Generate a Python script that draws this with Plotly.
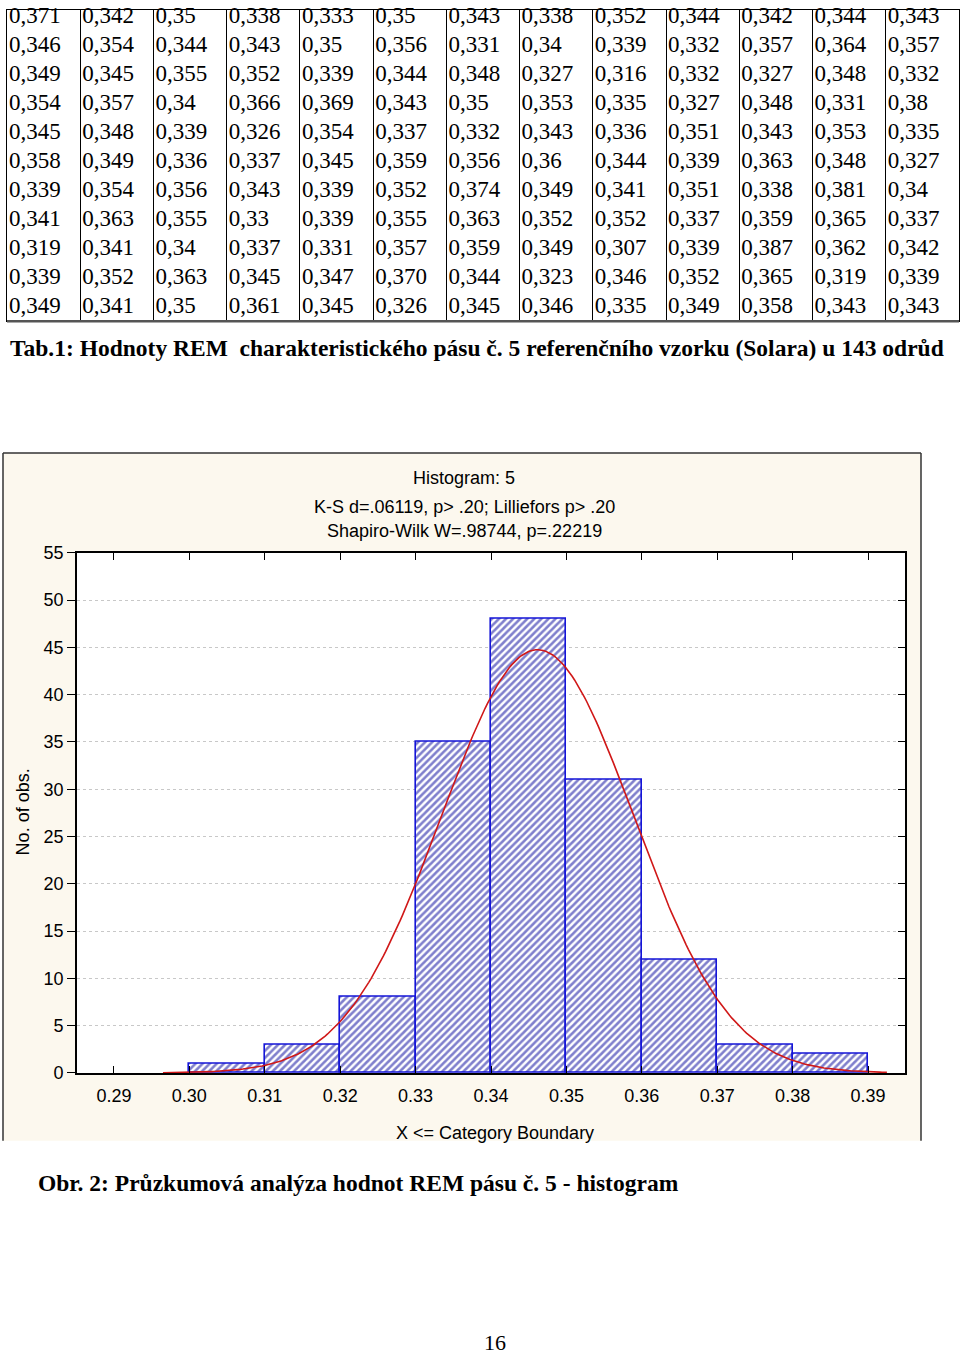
import numpy as np
import plotly.graph_objects as go

# ---------------- data: table of REM values (13 columns x 11 rows) ----------------
col_01 = ["0,371", "0,346", "0,349", "0,354", "0,345", "0,358", "0,339", "0,341", "0,319", "0,339", "0,349"]
col_02 = ["0,342", "0,354", "0,345", "0,357", "0,348", "0,349", "0,354", "0,363", "0,341", "0,352", "0,341"]
col_03 = ["0,35", "0,344", "0,355", "0,34", "0,339", "0,336", "0,356", "0,355", "0,34", "0,363", "0,35"]
col_04 = ["0,338", "0,343", "0,352", "0,366", "0,326", "0,337", "0,343", "0,33", "0,337", "0,345", "0,361"]
col_05 = ["0,333", "0,35", "0,339", "0,369", "0,354", "0,345", "0,339", "0,339", "0,331", "0,347", "0,345"]
col_06 = ["0,35", "0,356", "0,344", "0,343", "0,337", "0,359", "0,352", "0,355", "0,357", "0,370", "0,326"]
col_07 = ["0,343", "0,331", "0,348", "0,35", "0,332", "0,356", "0,374", "0,363", "0,359", "0,344", "0,345"]
col_08 = ["0,338", "0,34", "0,327", "0,353", "0,343", "0,36", "0,349", "0,352", "0,349", "0,323", "0,346"]
col_09 = ["0,352", "0,339", "0,316", "0,335", "0,336", "0,344", "0,341", "0,352", "0,307", "0,346", "0,335"]
col_10 = ["0,344", "0,332", "0,332", "0,327", "0,351", "0,339", "0,351", "0,337", "0,339", "0,352", "0,349"]
col_11 = ["0,342", "0,357", "0,327", "0,348", "0,343", "0,363", "0,338", "0,359", "0,387", "0,365", "0,358"]
col_12 = ["0,344", "0,364", "0,348", "0,331", "0,353", "0,348", "0,381", "0,365", "0,362", "0,319", "0,343"]
col_13 = ["0,343", "0,357", "0,332", "0,38", "0,335", "0,327", "0,34", "0,337", "0,342", "0,339", "0,343"]
table_columns = [col_01, col_02, col_03, col_04, col_05, col_06, col_07,
                 col_08, col_09, col_10, col_11, col_12, col_13]

# ---------------- data: histogram ----------------
bin_upper = [0.31, 0.32, 0.33, 0.34, 0.35, 0.36, 0.37, 0.38, 0.39]   # X <= category boundary
counts = [1, 3, 8, 35, 48, 31, 12, 3, 2]
bin_width = 0.01
x_tickvals = [0.29, 0.30, 0.31, 0.32, 0.33, 0.34, 0.35, 0.36, 0.37, 0.38, 0.39]
x_ticktext = ["0.29", "0.30", "0.31", "0.32", "0.33", "0.34", "0.35", "0.36", "0.37", "0.38", "0.39"]
y_tickvals = [0, 5, 10, 15, 20, 25, 30, 35, 40, 45, 50, 55]

title_lines = ["Histogram: 5",
               "K-S d=.06119, p> .20; Lilliefors p> .20",
               "Shapiro-Wilk W=.98744, p=.22219"]
table_caption = "Tab.1: Hodnoty REM \u00a0charakteristického pásu č. 5 referenčního vzorku (Solara) u 143 odrůd"
figure_caption = "Obr. 2: Průzkumová analýza hodnot REM pásu č. 5 - histogram"
page_number = "16"

# ---------------- geometry helpers ----------------
W, H = 960, 1357
# vertical calibration of the page photograph: shown_y = Y_OFF + Y_SCALE * figure_y
Y_OFF, Y_SCALE = 8.2, 0.987

def px(x):
    return x / W

def yfig(y_target):
    return (y_target - Y_OFF) / Y_SCALE

def py(y_target):
    return min(1.0, max(0.0, 1 - yfig(y_target) / H))

def py_free(y_target):
    return 1 - yfig(y_target) / H

SERIF = "Liberation Serif, Times New Roman, serif"
SANS = "Liberation Sans, Arial, sans-serif"

fig = go.Figure()

# ---------------- table (text trace on its own axes) ----------------
ncol = len(table_columns)
nrow = len(table_columns[0])
tbl_left, tbl_right, tbl_top, tbl_bottom = 7, 959, 1, 320
row_h = (tbl_bottom - tbl_top) / nrow
col_px = (tbl_right - tbl_left) / ncol
text_pad = 2.0 / col_px
tx, ty, tt = [], [], []
for ci, col in enumerate(table_columns):
    for ri, v in enumerate(col):
        tx.append(ci + text_pad)
        ty.append(ri + 0.5)
        tt.append(v)
fig.add_trace(go.Scatter(x=tx, y=ty, text=tt, mode="text", textposition="middle right",
                         textfont=dict(family=SERIF, size=23, color="black"),
                         cliponaxis=False,
                         xaxis="x3", yaxis="y3", hoverinfo="skip"))
# top of the visible table area (clamped to the figure top)
vis_top_fig = max(0.0, yfig(tbl_top))
vis_top_target = Y_OFF + Y_SCALE * vis_top_fig
row_top_offset = (vis_top_target - tbl_top) / row_h

shapes = []
shapes.append(dict(type="line", xref="paper", yref="paper",
                   x0=px(tbl_left), x1=px(tbl_right), y0=py(tbl_bottom), y1=py(tbl_bottom),
                   line=dict(color="#555555", width=2.5)))

# ---------------- chart panel ----------------
pan_l, pan_r, pan_t, pan_b = 3, 921, 452, 1141
beige = "#FCF8EE"
shapes.append(dict(type="rect", xref="paper", yref="paper", layer="below",
                   x0=px(pan_l), x1=px(pan_r), y0=py(pan_b), y1=py(pan_t),
                   fillcolor=beige, line=dict(width=0)))
for (x0, y0, x1, y1) in [(pan_l, pan_t, pan_r, pan_t), (pan_l, pan_t, pan_l, pan_b), (pan_r, pan_t, pan_r, pan_b)]:
    shapes.append(dict(type="line", xref="paper", yref="paper",
                       x0=px(x0), x1=px(x1), y0=py(y0), y1=py(y1),
                       line=dict(color="#333333", width=1.5)))
shapes.append(dict(type="rect", xref="x domain", yref="y domain", layer="below",
                   x0=0, x1=1, y0=0, y1=1, fillcolor="white", line=dict(width=0)))

# ---------------- histogram bars ----------------
bar_x = [b - bin_width / 2 for b in bin_upper]
fig.add_trace(go.Bar(
    x=bar_x, y=counts, width=[bin_width] * len(counts),
    marker=dict(color="white",
                line=dict(color="#1414D8", width=1.6),
                pattern=dict(shape="/", fgcolor="#00009A", bgcolor="white",
                             size=5, solidity=0.52)),
    xaxis="x", yaxis="y", hoverinfo="skip",
))

# ---------------- fitted normal curve (from the tabulated data) ----------------
vals = np.array([float(v.replace(",", ".")) for c in table_columns for v in c])
mu, sd = vals.mean(), vals.std(ddof=1)
cx = np.linspace(0.2965, 0.3925, 300)
cy = len(vals) * bin_width / (sd * np.sqrt(2 * np.pi)) * np.exp(-0.5 * ((cx - mu) / sd) ** 2)
fig.add_trace(go.Scatter(x=cx, y=cy, mode="lines",
                         line=dict(color="#D01818", width=1.6),
                         xaxis="x", yaxis="y", hoverinfo="skip"))

# invisible trace to realise the right-hand y axis
fig.add_trace(go.Scatter(x=[x_tickvals[0]], y=[0], mode="markers",
                         marker=dict(opacity=0), xaxis="x", yaxis="y2", hoverinfo="skip"))

# ---------------- annotations ----------------
ann = []
for txt, yy in zip(title_lines, [477, 506, 530]):
    ann.append(dict(text=txt, xref="paper", yref="paper", x=px(464), y=py_free(yy),
                    xanchor="center", yanchor="middle", showarrow=False,
                    font=dict(family=SANS, size=18, color="black")))
ann.append(dict(text="No. of obs.", xref="paper", yref="paper", x=px(23), y=py_free(812),
                textangle=-90, xanchor="center", yanchor="middle", showarrow=False,
                font=dict(family=SANS, size=18, color="black")))
ann.append(dict(text="X <= Category Boundary", xref="paper", yref="paper", x=px(495), y=py_free(1133),
                xanchor="center", yanchor="middle", showarrow=False,
                font=dict(family=SANS, size=18, color="black")))
ann.append(dict(text="<b>" + table_caption + "</b>", xref="paper", yref="paper", x=px(8), y=py_free(347),
                xanchor="left", yanchor="middle", showarrow=False,
                font=dict(family=SERIF, size=23.5, color="black")))
ann.append(dict(text="<b>" + figure_caption + "</b>", xref="paper", yref="paper", x=px(36), y=py_free(1183),
                xanchor="left", yanchor="middle", showarrow=False,
                font=dict(family=SERIF, size=23.5, color="black")))
ann.append(dict(text=page_number, xref="paper", yref="paper", x=px(495), y=py_free(1343),
                xanchor="center", yanchor="middle", showarrow=False,
                font=dict(family=SERIF, size=22, color="black")))

# ---------------- layout ----------------
plot_l, plot_r, plot_t, plot_b = 77, 905, 552, 1073
fig.update_layout(
    width=W, height=H, margin=dict(l=0, r=0, t=0, b=0),
    paper_bgcolor="white", plot_bgcolor="white", showlegend=False,
    bargap=0,
    shapes=shapes, annotations=ann,
    xaxis=dict(domain=[px(plot_l), px(plot_r)], range=[0.2851, 0.3949],
               tickvals=x_tickvals, ticktext=x_ticktext,
               ticks="inside", ticklen=7, tickwidth=1, tickcolor="black",
               showline=True, linecolor="black", linewidth=1.6, mirror="ticks",
               showgrid=False, zeroline=False, ticklabelstandoff=6,
               tickfont=dict(family=SANS, size=18, color="black"),
               anchor="y"),
    yaxis=dict(domain=[py(plot_b), py(plot_t)], range=[0, 55],
               tickvals=y_tickvals,
               ticks="outside", ticklen=8, tickwidth=1, tickcolor="black",
               showline=True, linecolor="black", linewidth=1.6, mirror=True,
               showgrid=True, gridcolor="#C8C8C8", griddash="dot", gridwidth=1,
               zeroline=False,
               tickfont=dict(family=SANS, size=18, color="black"),
               anchor="x"),
    yaxis2=dict(overlaying="y", side="right", anchor="x", range=[0, 55],
                tickvals=y_tickvals, ticks="inside", ticklen=7, tickwidth=1, tickcolor="black",
                showticklabels=False, showgrid=False, showline=False, zeroline=False),
    xaxis3=dict(domain=[px(tbl_left), px(tbl_right)], range=[0, ncol], anchor="y3",
                tickvals=list(range(1, ncol)), showticklabels=False, ticks="",
                showgrid=True, gridcolor="black", gridwidth=1.3,
                showline=True, mirror=True, linecolor="black", linewidth=1.4,
                zeroline=False, fixedrange=True),
    yaxis3=dict(domain=[py(tbl_bottom), py(tbl_top)], range=[nrow, row_top_offset], anchor="x3",
                showticklabels=False, ticks="", showgrid=False,
                showline=True, mirror=True, linecolor="black", linewidth=1.4,
                zeroline=False, fixedrange=True),
)

page_css = (
    "document.documentElement.style.margin='0px';"
    "document.documentElement.style.padding='0px';"
    "document.documentElement.style.overflow='hidden';"
    "document.body.style.margin='0px';"
    "document.body.style.padding='0px';"
    "document.body.style.overflow='hidden';"
)
fig.write_html("out.html", post_script=page_css, config={"displayModeBar": False})
